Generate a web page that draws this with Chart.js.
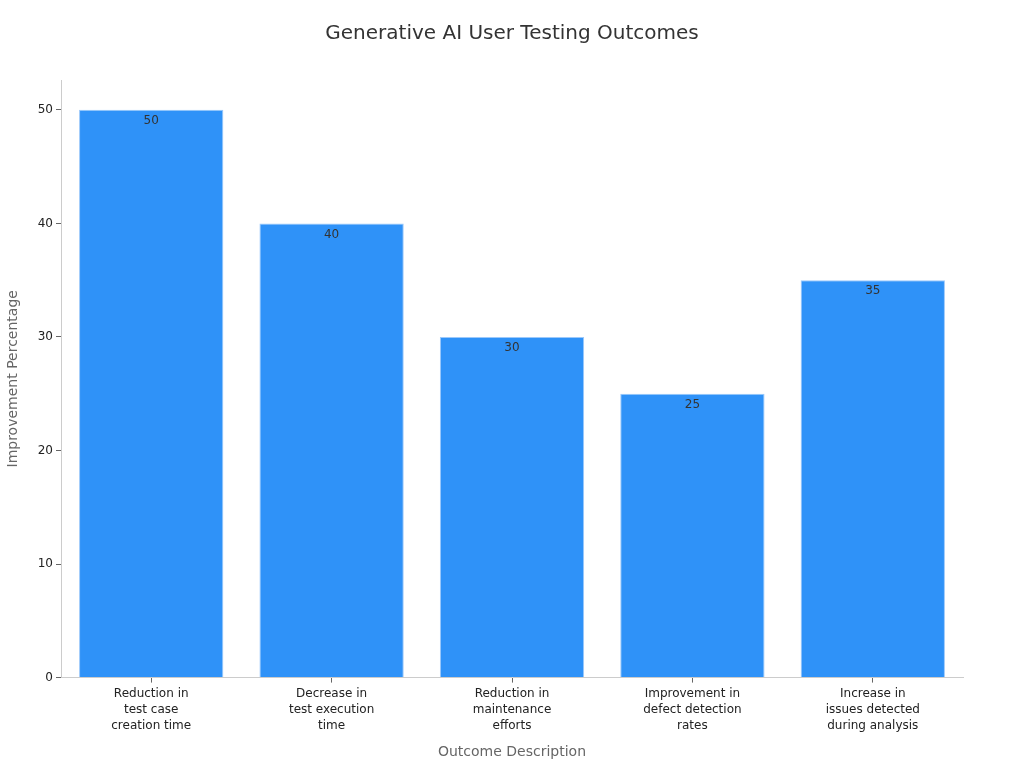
<!DOCTYPE html>
<html>
<head>
<meta charset="utf-8">
<script src="https://cdn.jsdelivr.net/npm/chart.js@4"></script>
<style>
  html, body { margin: 0; padding: 0; background: #fff; }
  #wrap { width: 1024px; height: 768px; }
</style>
</head>
<body>
<div id="wrap"><canvas id="chart" width="1024" height="768"></canvas></div>
<script>
// chart data
const categories = [
  ["Reduction in", "test case", "creation time"],
  ["Decrease in", "test execution", "time"],
  ["Reduction in", "maintenance", "efforts"],
  ["Improvement in", "defect detection", "rates"],
  ["Increase in", "issues detected", "during analysis"],
];
const improvement = [50, 40, 30, 25, 35];
const yTicks = [0, 10, 20, 30, 40, 50];
const chartTitle = "Generative AI User Testing Outcomes";

const FONT = "'DejaVu Sans', sans-serif";

// value labels just inside the top of each bar, plus the page-centred title
const extras = {
  id: "extras",
  afterDatasetsDraw(chart) {
    const ctx = chart.ctx;
    const meta = chart.getDatasetMeta(0);
    ctx.save();
    ctx.font = "12px " + FONT;
    ctx.fillStyle = "#333";
    ctx.textAlign = "center";
    ctx.textBaseline = "middle";
    meta.data.forEach((bar, i) => {
      ctx.fillText(String(improvement[i]), bar.x, bar.y + 11);
    });
    ctx.font = "20px " + FONT;
    ctx.fillText(chartTitle, chart.width / 2, 34);
    ctx.restore();
  },
};

new Chart("chart", {
  type: "bar",
  data: {
    labels: categories,
    datasets: [
      {
        data: improvement,
        backgroundColor: "#2f92f8",
        borderColor: "#9cc9fb",
        borderWidth: 1,
        categoryPercentage: 1,
        barPercentage: 0.8,
      },
    ],
  },
  options: {
    responsive: false,
    animation: false,
    layout: { padding: { left: 0, right: 61, top: 80, bottom: 0 } },
    plugins: {
      legend: { display: false },
      tooltip: { enabled: false },
      title: { display: false },
    },
    scales: {
      x: {
        offset: true,
        grid: { offset: false, drawOnChartArea: false, drawTicks: true, tickLength: 5, color: "#666" },
        border: { display: true, color: "#ccc" },
        ticks: {
          color: "#222",
          font: { family: FONT, size: 12, lineHeight: 1.35 },
          maxRotation: 0,
          autoSkip: false,
          padding: 3,
        },
        title: {
          display: true,
          text: "Outcome Description",
          color: "#666",
          font: { family: FONT, size: 14 },
          padding: { top: 7, bottom: 7 },
        },
      },
      y: {
        min: 0,
        max: 52.63,
        afterBuildTicks(scale) {
          scale.ticks = yTicks.map((v) => ({ value: v }));
        },
        afterFit(scale) {
          scale.width = 61;
        },
        grid: { drawOnChartArea: false, drawTicks: true, tickLength: 5, color: "#666" },
        border: { display: true, color: "#ccc" },
        ticks: {
          color: "#222",
          font: { family: FONT, size: 12 },
          padding: 3,
        },
        title: {
          display: true,
          text: "Improvement Percentage",
          color: "#666",
          font: { family: FONT, size: 14 },
          padding: { top: 5, bottom: 4 },
        },
      },
    },
  },
  plugins: [extras],
});
</script>
</body>
</html>
